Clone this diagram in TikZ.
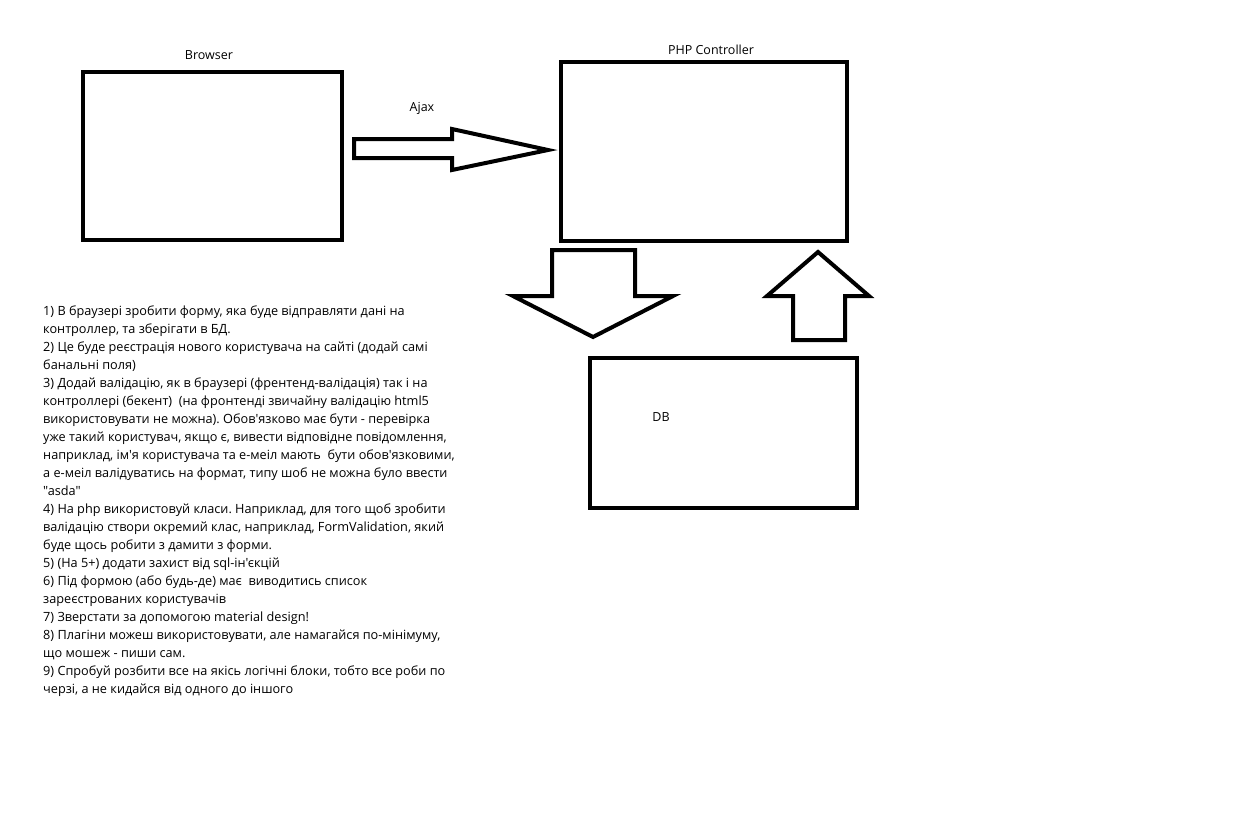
\documentclass[tikz,border=0pt]{standalone}
\usepackage{fontspec}
\setmainfont[Ligatures=TeXOff]{Open Sans}
\frenchspacing
\begin{document}
\begin{tikzpicture}[x=1pt,y=-1pt,
  box/.style={draw=black,line width=4.6pt,fill=none},
  blockarrow/.style={draw=black,line width=4pt,line join=miter,fill=white},
  lbl/.style={font=\fontsize{12.5}{18}\selectfont,inner sep=0pt},
  notes/.style={font=\fontsize{12.7}{18}\selectfont,inner sep=0pt,align=left,anchor=north west}]
\useasboundingbox[fill=white] (0,0) rectangle (1246,827);
% boxes
\draw[box] (83,72) rectangle (342,240);
\coordinate (browser) at (212.5,156);
\draw[box] (561,62) rectangle (847,241);
\coordinate (php) at (704,151.5);
\draw[box] (590,358) rectangle (857,508);
\coordinate (db) at (723.5,433);
% labels
\node[lbl] (browserlbl) at (209,55) {Browser};
\node[lbl] (phplbl) at (711,50) {PHP Controller};
\node[lbl] (ajaxlbl) at (422,108) {Ajax};
\node[lbl] (dblbl) at (661,417) {DB};
% arrows
\draw[blockarrow] (354,139) -- (452,139) -- (452,129) -- (548,150) -- (452,170) -- (452,158) -- (354,158) -- cycle;
\draw[blockarrow] (552,250) -- (635,250) -- (635,296) -- (673,296) -- (593,337) -- (513,296) -- (552,296) -- cycle;
\draw[blockarrow] (818,252) -- (869,296) -- (845,296) -- (845,340) -- (793,340) -- (793,296) -- (767,296) -- cycle;
% notes
\node[notes] (notes) at (43,306) {1) В браузері зробити форму, яка буде відправляти дані на\\
контроллер, та зберігати в БД.\\
2) Це буде реєстрація нового користувача на сайті (додай самі\\
банальні поля)\\
3) Додай валідацію, як в браузері (френтенд-валідація) так і на\\
контроллері (бекент)\ \ (на фронтенді звичайну валідацію html5\\
використовувати не можна). Обов'язково має бути - перевірка\\
уже такий користувач, якщо є, вивести відповідне повідомлення,\\
наприклад, ім'я користувача та е-меіл мають\ \ бути обов'язковими,\\
а е-меіл валідуватись на формат, типу шоб не можна було ввести\\
"asda"\\
4) На php використовуй класи. Наприклад, для того щоб зробити\\
валідацію створи окремий клас, наприклад, FormValidation, який\\
буде щось робити з дамити з форми.\\
5) (На 5+) додати захист від sql-ін'єкцій\\
6) Під формою (або будь-де) має\ \ виводитись список\\
зареєстрованих користувачів\\
7) Зверстати за допомогою material design!\\
8) Плагіни можеш використовувати, але намагайся по-мінімуму,\\
що мошеж - пиши сам.\\
9) Спробуй розбити все на якісь логічні блоки, тобто все роби по\\
черзі, а не кидайся від одного до іншого};
\end{tikzpicture}
\end{document}
